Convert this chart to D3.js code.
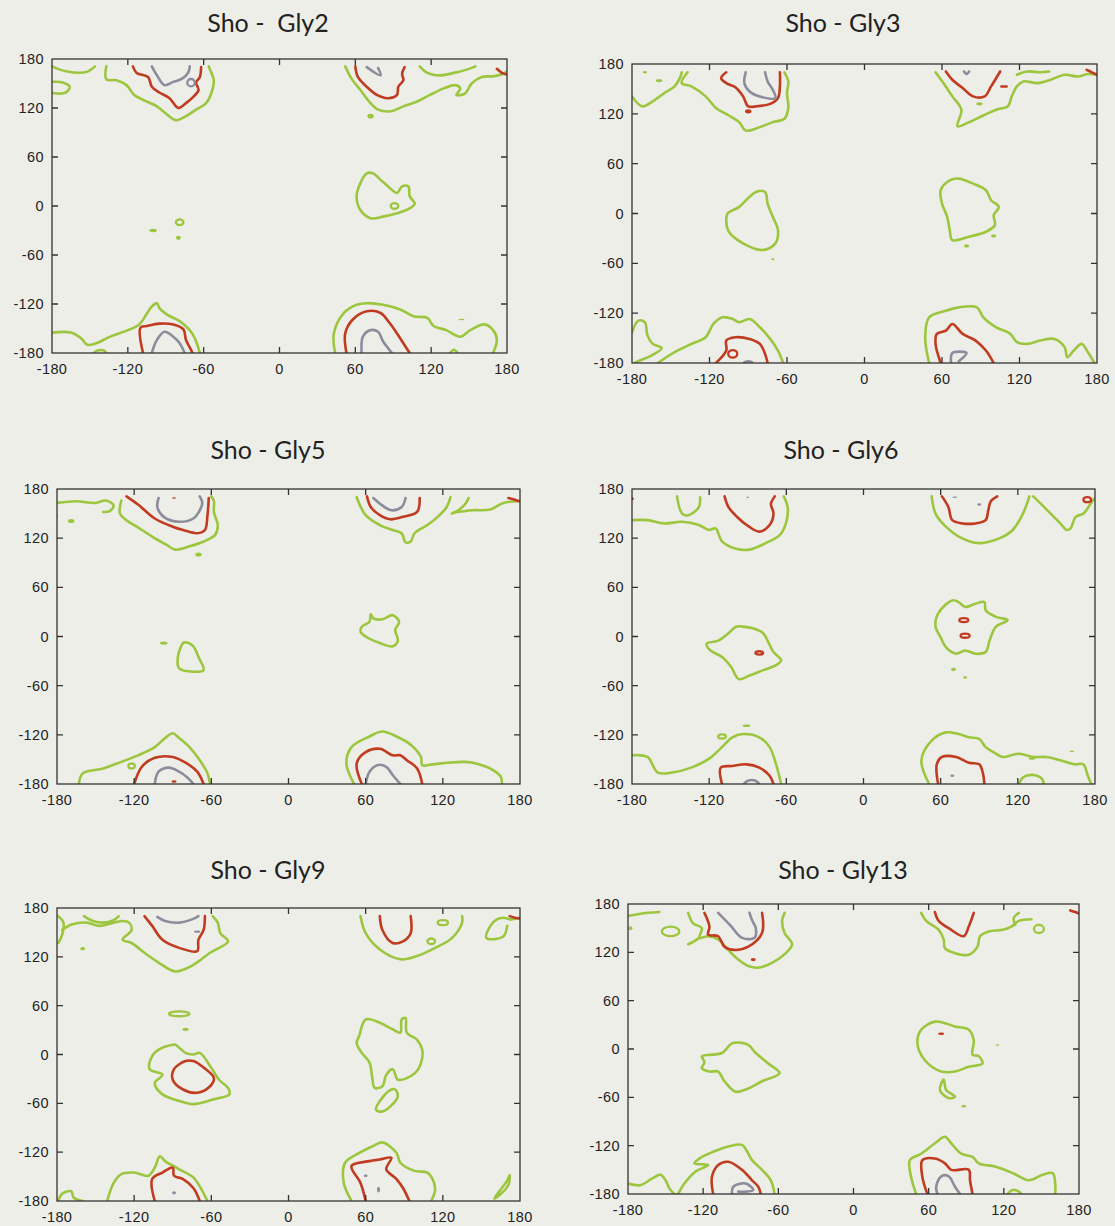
<!DOCTYPE html>
<html>
<head>
<meta charset="utf-8">
<script src="https://cdn.jsdelivr.net/npm/d3@7/dist/d3.min.js"></script>
<style>
  body { margin: 0; background: #eeeee9; }
  svg { display: block; }
  .tick-label { font-family: "Liberation Sans", Arial, sans-serif; font-size: 14.5px; letter-spacing: 0.4px; fill: #222; }
  .title { font-family: Lato, "Open Sans", sans-serif; font-size: 25px; fill: #222; white-space: pre; }
</style>
</head>
<body>
<div id="chart"></div>
<script>
// axis ticks (degrees)
var tickValues = [-180, -120, -60, 0, 60, 120, 180];
var titles = ["Sho -  Gly2", "Sho - Gly3", "Sho - Gly5", "Sho - Gly6", "Sho - Gly9", "Sho - Gly13"];

// contour lines as [phi, psi] points; a line whose last point equals its first is closed
// ring / blob entries: [phi, psi, halfWidthDeg, halfHeightDeg]

// ---- Gly2 ----
var gly2Green = [
  [[-180,171],[-169,165],[-153,164],[-146,171]],
  [[-180,152],[-171,151],[-166,146],[-169,139],[-178,138],[-180,139]],
  [[-137,171],[-137,155],[-129,154],[-121,148],[-115,136],[-108,130],[-97,122],[-89,112],[-82,105],[-74,110],[-66,118],[-58,126],[-54,138],[-52,154],[-55,167],[-56,171]],
  [[52,171],[57,156],[64,142],[72,126],[78,118],[88,116],[98,122],[109,128],[119,136],[130,144],[139,148],[143,144],[140,136],[147,138],[152,150],[160,158],[170,159],[177,162],[180,165]],
  [[111,171],[117,163],[127,160],[138,163],[148,167],[155,171]],
  [[69,40],[64,28],[61,12],[64,-5],[72,-15],[82,-13],[93,-9],[103,-3],[107,3],[103,12],[102,24],[97,24],[93,16],[86,24],[80,32],[74,40],[69,40]],
  [[-180,-155],[-165,-155],[-157,-162],[-152,-170],[-145,-168],[-134,-160],[-120,-152],[-111,-145],[-105,-132],[-101,-123],[-97,-119],[-95,-125],[-89,-133],[-79,-141],[-71,-152],[-67,-162],[-63,-180]],
  [[-147,-180],[-144,-177],[-139,-177],[-137,-180]],
  [[44,-180],[43,-156],[51,-131],[61,-121],[69,-119],[82,-121],[96,-127],[106,-135],[117,-137],[122,-147],[132,-152],[143,-160],[151,-152],[162,-145],[169,-152],[172,-164],[169,-180]],
  [[135,-180],[138,-176],[141,-180]]
];
var gly2Red = [
  [[-116,171],[-113,163],[-104,158],[-101,146],[-95,139],[-87,132],[-80,120],[-74,126],[-68,134],[-64,142],[-66,151],[-63,158],[-62,170]],
  [[60,171],[62,158],[69,146],[77,136],[86,132],[93,136],[94,146],[98,154],[97,162],[99,170]],
  [[172,168],[176,163],[180,161]],
  [[-108,-180],[-110,-149],[-105,-147],[-95,-144],[-84,-145],[-76,-151],[-74,-164],[-70,-176],[-69,-180]],
  [[53,-180],[52,-156],[58,-139],[69,-129],[80,-131],[87,-143],[93,-156],[98,-168],[103,-180]]
];
var gly2Grey = [
  [[-101,171],[-97,160],[-91,148],[-84,152],[-77,156],[-72,164],[-71,171]],
  [[69,170],[80,160],[78,169]],
  [[-101,-180],[-97,-164],[-91,-154],[-84,-160],[-79,-168],[-75,-180]],
  [[65,-180],[66,-160],[72,-152],[78,-154],[82,-166],[89,-180]]
];
var gly2Rings = { green: [[-79,-20,3,3.5],[91,0,3,3.5]], red: [], grey: [[-70,151,3,4.5]] };
var gly2Blobs = { green: [[-100,-30,3,2],[-80,-39,2,2.5],[72,110,2.5,3],[144,-139,2.5,1]], red: [], grey: [] };

// ---- Gly3 ----
var gly3Green = [
  [[-180,141],[-172,129],[-164,135],[-155,145],[-147,153],[-143,163],[-141.5,170]],
  [[-137,170],[-141.5,157],[-134,153],[-123,141],[-115,127],[-105,118],[-97,110],[-92,100],[-81,104],[-71,110],[-62,114],[-59,127],[-60,145],[-59,159],[-62,170]],
  [[55,170],[62,155],[68,141],[75,125],[72,105],[81,110],[92,118],[102,125],[111,129],[114,141],[118,153],[123,159],[134,157],[144,161],[155,167],[165,165],[173,168],[180,167]],
  [[118,167],[126,171],[136,170],[143,171]],
  [[-84,26],[-89,20],[-97,8],[-106,0],[-107,-8],[-105,-22],[-94,-36],[-79,-44],[-69,-36],[-67,-20],[-71,-4],[-75,12],[-77,26],[-84,26]],
  [[66,40],[59,28],[60,12],[64,-4],[66,-20],[68,-32],[81,-28],[94,-22],[101,-14],[100,-2],[104,8],[98,16],[94,28],[84,36],[73,42],[66,40]],
  [[-180,-143],[-175,-129],[-170,-131],[-168,-147],[-164,-157],[-157,-162],[-165,-171],[-174,-177],[-178,-180]],
  [[-160,-180],[-147,-167],[-134,-157],[-123,-149],[-117,-133],[-110,-125],[-102,-127],[-97,-131],[-89,-127],[-81,-137],[-73,-151],[-67,-165],[-63,-180]],
  [[50,-180],[47,-149],[50,-125],[63,-117],[73,-113],[87,-113],[92,-125],[102,-137],[113,-145],[118,-155],[126,-157],[136,-153],[147,-151],[155,-161],[157,-173],[162,-165],[168,-157],[173,-167],[178,-180]]
];
var gly3Red = [
  [[-107,170],[-111,163],[-107,157],[-100,152],[-94,141],[-90,129],[-84,129],[-73,132],[-67,139],[-65.5,153],[-65.5,170]],
  [[63,171],[68,161],[76,151],[84,141],[93,141],[98,153],[105,171]],
  [[172,173],[176,170],[180,167]],
  [[-115,-180],[-107,-165],[-107,-153],[-100,-149],[-89,-151],[-81,-157],[-77,-169],[-75,-180]],
  [[59,-180],[55,-157],[56,-145],[63,-141],[68,-133],[76,-145],[86,-153],[94,-165],[100,-180]],
  [[106,153],[110,153]]
];
var gly3Grey = [
  [[-92,170],[-93,157],[-89,147],[-81,141],[-69,139],[-71,149],[-75,159],[-77,170]],
  [[67,-179],[68,-168],[79,-168],[73,-178]],
  [[-93,-179],[-90,-178],[-87,-179]],
  [[77,171],[79,168],[81,171]]
];
var gly3Rings = { green: [], red: [[-102,-169,3.5,4.5]], grey: [] };
var gly3Blobs = { green: [[-170,170,1.5,1.5],[-159,160,2.5,2],[89,132,2.5,2],[-71,-55,1.2,1.2],[79,-39,2,2],[100,-27,2,2]], red: [[-90,123,2.5,2.5]], grey: [] };

// ---- Gly5 ----
var gly5Green = [
  [[-180,163],[-165,165],[-150,163],[-142,166],[-136,160],[-139,153],[-144,152]],
  [[-130,166],[-131,150],[-126,142],[-118,134],[-106,122],[-95,112],[-88,106],[-77,110],[-66,116],[-57,124],[-55,136],[-58,152],[-58,165],[-60,171]],
  [[53,170],[60,148],[71,136],[81,130],[88,126],[91,115],[95,116],[98,126],[108,136],[116,146],[123,158],[126,170]],
  [[127,150],[132,154],[138,163],[140,169]],
  [[128,151],[143,154],[157,155],[167,163],[180,165]],
  [[-82,-8],[-86,-25],[-85,-39],[-74,-43],[-66,-41],[-70,-25],[-74,-12],[-80,-7],[-82,-8]],
  [[64,27],[63,18],[57,12],[56,6],[60,0],[71,-8],[81,-12],[85,-5],[83,8],[86,18],[81,26],[73,21],[66,22],[64,27]],
  [[-163,-180],[-160,-167],[-144,-161],[-130,-153],[-117,-145],[-104,-135],[-96,-124],[-90,-118],[-85,-124],[-77,-135],[-69,-151],[-63,-167],[-61,-180]],
  [[51,-180],[45,-155],[49,-135],[63,-122],[73,-116],[84,-122],[95,-132],[103,-147],[104,-157],[112,-156],[124,-154],[137,-153],[146,-155],[159,-163],[165,-171],[166,-180]]
];
var gly5Red = [
  [[-126,171],[-117,161],[-104,144],[-90,134],[-82,130],[-71,126],[-65,130],[-63,148],[-62,169]],
  [[61,171],[64,158],[71,148],[79,143],[89,146],[100,152],[102,169]],
  [[171,169],[176,167],[180,165]],
  [[-120,-180],[-114,-159],[-104,-148],[-90,-147],[-80,-154],[-71,-165],[-66,-180]],
  [[57,-180],[53,-155],[60,-141],[71,-137],[81,-145],[87,-145],[92,-151],[100,-161],[104,-180]]
];
var gly5Grey = [
  [[-101,169],[-102,158],[-97,146],[-85,140],[-74,144],[-69,154],[-67,163],[-69,171]],
  [[66,169],[72,161],[80,154],[88,158],[91,169]],
  [[-104,-180],[-101,-165],[-93,-160],[-85,-165],[-78,-173],[-74,-180]],
  [[60,-180],[63,-165],[69,-157],[76,-159],[81,-169],[87,-180]]
];
var gly5Rings = { green: [[-122,-158,2.5,3]], red: [], grey: [] };
var gly5Blobs = { green: [[-169,141,2.5,2.5],[-70,100,2.5,2.5],[-97,-8,3,2],[-180,147,1,2]], red: [[-89,169,1.5,1],[-89,-177,2,1.5]], grey: [] };

// ---- Gly6 ----
var gly6Green = [
  [[-180,142],[-168,142],[-155,138],[-141,140],[-128,136],[-120,130],[-115,132],[-110,116],[-99,107],[-89,106],[-76,114],[-65,124],[-60,140],[-59,158],[-62,171]],
  [[-145,171],[-141,150],[-136,148],[-128,158],[-127,170]],
  [[53,171],[56,150],[64,134],[74,122],[90,114],[106,120],[116,130],[124,150],[129,171]],
  [[132,171],[143,154],[153,138],[158,130],[161,132],[165,146],[171,150],[177,163],[180,169]],
  [[-99,12],[-105,4],[-113,-5],[-122,-9],[-119,-17],[-110,-25],[-103,-37],[-97,-52],[-89,-48],[-78,-41],[-68,-35],[-64,-29],[-70,-19],[-74,-7],[-78,4],[-86,10],[-94,12],[-99,12]],
  [[69,44],[58,28],[56,12],[60,-1],[64,-13],[72,-21],[79,-17],[87,-21],[95,-19],[98,-5],[103,12],[112,20],[103,24],[95,32],[94,42],[87,40],[79,36],[74,42],[69,44]],
  [[-180,-145],[-168,-147],[-160,-166],[-149,-166],[-134,-160],[-120,-149],[-110,-135],[-102,-123],[-94,-119],[-81,-123],[-73,-135],[-68,-156],[-64,-180]],
  [[51,-180],[45,-151],[53,-127],[64,-117],[74,-119],[82,-123],[90,-125],[95,-135],[103,-143],[108,-147],[121,-143],[132,-147],[142,-147],[153,-151],[164,-156],[171,-156],[174,-168],[177,-180]],
  [[121,-180],[124,-172],[132,-169],[139,-174],[140,-180]]
];
var gly6Red = [
  [[-108,171],[-105,158],[-97,144],[-89,134],[-81,128],[-73,136],[-70,150],[-72,162],[-69,171]],
  [[61,171],[66,158],[69,142],[77,138],[87,138],[95,142],[97,154],[99,165],[104,171]],
  [[-110,-180],[-111,-160],[-102,-158],[-91,-156],[-81,-160],[-73,-170],[-70,-180]],
  [[58,-180],[57,-156],[61,-147],[72,-147],[82,-154],[90,-156],[93,-168],[94,-180]]
];
var gly6Grey = [
  [[-93,-180],[-90,-176],[-84,-176],[-81,-180]]
];
var gly6Rings = { green: [[-110,-122,3,2.5]], red: [[-81,-20,3,2],[78,20,3.5,2.5],[79,1,3.5,2.5],[174,167,3,3]], grey: [] };
var gly6Blobs = { green: [[-91,-109,3,1.5],[70,-40,2,2],[79,-50,1.5,1.5],[131,-149,2.5,1.5],[162,-140,2,0.8]], red: [[-180,168,1.5,2]], grey: [[-90,170,1,1],[90,161,1.5,1.5],[71,170,2,0.8],[69,-170,1.5,1.5]] };

// ---- Gly9 ----
var gly9Green = [
  [[-179,170],[-175,162],[-176,147],[-179,137]],
  [[-176,153],[-168,160],[-157,162],[-147,158],[-136,162],[-129,164],[-124,162],[-122,153],[-129,141],[-122,137],[-112,125],[-101,113],[-88,102],[-74,110],[-61,125],[-47,139],[-53,149],[-55,162],[-59,170]],
  [[-159,170],[-152,164],[-144,162],[-136,165],[-132,170]],
  [[56,170],[60,149],[71,129],[87,117],[100,121],[114,131],[127,143],[135,162],[135,170]],
  [[170,158],[167,145],[154,143],[157,158],[162,166],[167,168],[173,166],[179,168]],
  [[-90,12],[-101,6],[-106,-2],[-108,-18],[-98,-25],[-104,-35],[-98,-49],[-85,-57],[-74,-61],[-58,-55],[-46,-49],[-47,-41],[-54,-31],[-61,-14],[-69,2],[-74,0],[-80,2],[-88,12],[-90,12]],
  [[60,43],[55,23],[53,14],[57,2],[63,-10],[65,-27],[67,-41],[73,-39],[76,-25],[81,-18],[85,-31],[92,-29],[100,-20],[104,-4],[104,6],[100,18],[92,27],[91,45],[88,43],[87,27],[81,31],[71,39],[60,43]],
  [[80,-43],[73,-53],[68,-68],[73,-70],[81,-61],[85,-51],[83,-43],[80,-43]],
  [[-179,-180],[-176,-171],[-169,-168],[-167,-176],[-160,-180]],
  [[-141,-180],[-136,-158],[-130,-147],[-120,-145],[-109,-149],[-104,-139],[-100,-125],[-96,-131],[-85,-141],[-74,-151],[-69,-162],[-63,-180]],
  [[49,-180],[43,-158],[44,-133],[55,-121],[65,-113],[73,-108],[84,-121],[87,-133],[98,-143],[108,-145],[112,-153],[114,-166],[111,-180]],
  [[160,-177],[165,-166],[170,-155],[172,-148],[171,-160],[166,-170],[160,-177]]
];
var gly9Red = [
  [[-112,170],[-106,158],[-98,141],[-85,131],[-71,127],[-70,141],[-66,153],[-65,170]],
  [[71,170],[73,153],[81,137],[89,139],[95,149],[95,170]],
  [[-80,-8],[-89,-18],[-90,-31],[-82,-43],[-71,-47],[-61,-39],[-58,-29],[-66,-16],[-74,-8],[-80,-8]],
  [[-104,-180],[-106,-153],[-98,-145],[-90,-139],[-89,-149],[-82,-153],[-74,-164],[-69,-180]],
  [[60,-180],[56,-158],[49,-137],[63,-131],[71,-129],[80,-127],[76,-141],[84,-153],[89,-164],[94,-180]],
  [[172,170],[176,168],[180,167]]
];
var gly9Grey = [
  [[-102,169],[-96,164],[-85,162],[-75,166],[-70,170]]
];
var gly9Rings = { green: [[-85,50,8,3],[120,162,4,3],[111,139,3,3.5]], red: [], grey: [] };
var gly9Blobs = { green: [[-160,130,2,2],[-80,31,2.5,2]], red: [], grey: [[-71,151,2.5,1.5],[-89,-170,1.5,2],[60,-149,1.5,1.5],[70,-166,1.2,3.5]] };

// ---- Gly13 ----
var gly13Green = [
  [[-180,165],[-170,168],[-155,170]],
  [[-132,169],[-128,156],[-121,150],[-123,138],[-116,140],[-108,136],[-100,123],[-92,111],[-84,103],[-76,101],[-65,107],[-54,119],[-49,130],[-55,144],[-57,159],[-55,169]],
  [[-132,130],[-127,134],[-123,138]],
  [[54,169],[58,159],[68,148],[72,136],[73,125],[81,119],[92,117],[99,127],[101,140],[108,146],[119,148],[126,152],[132,159],[142,161]],
  [[129,154],[128,163],[132,169]],
  [[-97,7],[-105,-5],[-113,-7],[-121,-9],[-119,-16],[-121,-24],[-115,-28],[-108,-28],[-103,-40],[-94,-53],[-84,-49],[-73,-40],[-59,-30],[-68,-18],[-78,-5],[-84,5],[-92,8],[-97,7]],
  [[65,34],[54,24],[51,7],[57,-14],[70,-28],[81,-28],[92,-22],[103,-18],[100,-9],[95,-7],[96,11],[92,24],[81,28],[73,32],[65,34]],
  [[72,-38],[69,-51],[76,-61],[81,-59],[74,-51],[72,-38]],
  [[-180,-167],[-170,-169],[-161,-161],[-154,-156],[-150,-163],[-147,-173],[-143,-180]],
  [[-140,-180],[-135,-167],[-126,-152],[-116,-144],[-127,-142],[-121,-134],[-111,-127],[-100,-121],[-89,-119],[-85,-127],[-81,-138],[-73,-150],[-66,-163],[-63,-180]],
  [[50,-180],[46,-159],[45,-138],[54,-130],[65,-117],[73,-109],[78,-117],[86,-130],[95,-134],[100,-142],[113,-146],[127,-154],[140,-163],[151,-156],[159,-154],[161,-167],[161,-180]],
  [[123,-180],[127,-175],[132,-177],[134,-180]]
];
var gly13Red = [
  [[-119,169],[-115,152],[-116,142],[-108,140],[-103,127],[-95,123],[-84,127],[-73,144],[-73,169]],
  [[65,170],[68,159],[76,150],[88,140],[92,152],[96,169]],
  [[-112,-180],[-113,-159],[-108,-144],[-100,-140],[-89,-150],[-81,-163],[-76,-171],[-74,-180]],
  [[59,-180],[55,-159],[55,-138],[65,-136],[73,-142],[78,-150],[92,-150],[93,-163],[95,-180]],
  [[173,172],[177,170],[180,168]]
];
var gly13Grey = [
  [[-108,169],[-98,153],[-89,138],[-79,138],[-78,150],[-81,160],[-83,169]],
  [[-97,-180],[-96,-171],[-86,-167],[-80,-175],[-85,-177],[-92,-177]],
  [[67,-180],[66,-171],[70,-158],[76,-158],[81,-171],[85,-180]]
];
var gly13Rings = { green: [[-146,146,7,6],[148,149,4,5]], red: [], grey: [] };
var gly13Blobs = { green: [[-178,150,1.5,2.5],[88,-71,2,1.5],[115,5,1.5,1]], red: [[-80,111,2,2],[70,19,2.5,1.5]], grey: [] };

var panelData = [
  { green: gly2Green, red: gly2Red, grey: gly2Grey, rings: gly2Rings, blobs: gly2Blobs },
  { green: gly3Green, red: gly3Red, grey: gly3Grey, rings: gly3Rings, blobs: gly3Blobs },
  { green: gly5Green, red: gly5Red, grey: gly5Grey, rings: gly5Rings, blobs: gly5Blobs },
  { green: gly6Green, red: gly6Red, grey: gly6Grey, rings: gly6Rings, blobs: gly6Blobs },
  { green: gly9Green, red: gly9Red, grey: gly9Grey, rings: gly9Rings, blobs: gly9Blobs },
  { green: gly13Green, red: gly13Red, grey: gly13Grey, rings: gly13Rings, blobs: gly13Blobs }
];

// page layout: plot frame boxes and title anchors (pixels)
var frames = [
  { x0: 52, x1: 507, y0: 59, y1: 353, tx: 268, ty: 32 },
  { x0: 632, x1: 1097, y0: 64, y1: 363, tx: 843, ty: 32 },
  { x0: 57, x1: 520, y0: 489, y1: 784, tx: 268, ty: 459 },
  { x0: 632, x1: 1095, y0: 489, y1: 784, tx: 841, ty: 459 },
  { x0: 57, x1: 520, y0: 908, y1: 1201, tx: 268, ty: 879 },
  { x0: 628, x1: 1079, y0: 904, y1: 1194, tx: 843, ty: 879 }
];
var colors = { green: "#9cc63e", red: "#c03b20", grey: "#8c8d9c" };

var svg = d3.select("#chart").append("svg").attr("width", 1115).attr("height", 1226);

frames.forEach(function(f, i) {
  var data = panelData[i];
  var x = d3.scaleLinear().domain([-180, 180]).range([f.x0, f.x1]);
  var y = d3.scaleLinear().domain([-180, 180]).range([f.y1, f.y0]);
  var g = svg.append("g");

  g.append("text").attr("class", "title").attr("x", f.tx).attr("y", f.ty)
    .attr("text-anchor", "middle").text(titles[i]);

  g.append("clipPath").attr("id", "clip" + i).append("rect")
    .attr("x", f.x0).attr("y", f.y0).attr("width", f.x1 - f.x0).attr("height", f.y1 - f.y0);

  var plot = g.append("g").attr("clip-path", "url(#clip" + i + ")");

  ["green", "red", "grey"].forEach(function(level) {
    data[level].forEach(function(pts) {
      var first = pts[0], last = pts[pts.length - 1];
      var closed = pts.length > 3 && first[0] === last[0] && first[1] === last[1];
      var line = d3.line().x(d => x(d[0])).y(d => y(d[1]))
        .curve(closed ? d3.curveCatmullRomClosed.alpha(0.5) : d3.curveCatmullRom.alpha(0.5));
      plot.append("path")
        .attr("d", line(closed ? pts.slice(0, -1) : pts))
        .attr("fill", "none")
        .attr("stroke", colors[level])
        .attr("stroke-width", 2.6)
        .attr("stroke-linejoin", "round")
        .attr("stroke-linecap", "round");
    });
    data.rings[level].forEach(function(r) {
      plot.append("ellipse")
        .attr("cx", x(r[0])).attr("cy", y(r[1]))
        .attr("rx", x(r[0] + r[2]) - x(r[0])).attr("ry", y(r[1]) - y(r[1] + r[3]))
        .attr("fill", "none").attr("stroke", colors[level]).attr("stroke-width", 2.3);
    });
    data.blobs[level].forEach(function(b) {
      plot.append("ellipse")
        .attr("cx", x(b[0])).attr("cy", y(b[1]))
        .attr("rx", x(b[0] + b[2]) - x(b[0])).attr("ry", y(b[1]) - y(b[1] + b[3]))
        .attr("fill", colors[level]);
    });
  });

  // frame
  g.append("rect").attr("x", f.x0).attr("y", f.y0)
    .attr("width", f.x1 - f.x0).attr("height", f.y1 - f.y0)
    .attr("fill", "none").attr("stroke", "#333").attr("stroke-width", 1.3);

  // inward ticks on all four sides
  var inner = tickValues.slice(1, -1);
  g.selectAll(".xt").data(inner).enter().append("path")
    .attr("d", d => `M${x(d)},${f.y1}v-6M${x(d)},${f.y0}v6`)
    .attr("stroke", "#333").attr("stroke-width", 1.3);
  g.selectAll(".yt").data(inner).enter().append("path")
    .attr("d", d => `M${f.x0},${y(d)}h6M${f.x1},${y(d)}h-6`)
    .attr("stroke", "#333").attr("stroke-width", 1.3);

  g.selectAll(".xl").data(tickValues).enter().append("text")
    .attr("class", "tick-label").attr("x", d => x(d)).attr("y", f.y1 + 21)
    .attr("text-anchor", "middle").text(d => d);
  g.selectAll(".yl").data(tickValues).enter().append("text")
    .attr("class", "tick-label").attr("x", f.x0 - 8).attr("y", d => y(d) + 5)
    .attr("text-anchor", "end").text(d => d);
});
</script>
</body>
</html>
